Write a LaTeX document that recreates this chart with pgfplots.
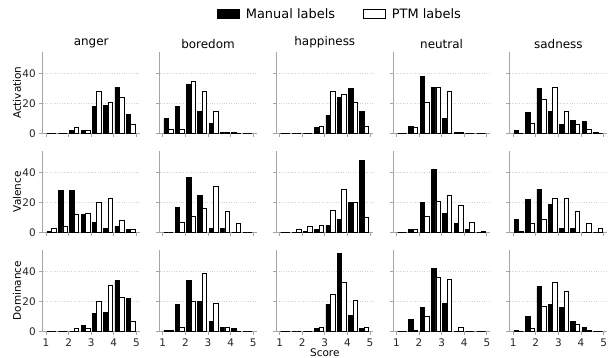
\documentclass[border=0pt]{standalone}
\usepackage{pgfplots}
\usepackage{pgfplotstable}
\pgfplotsset{compat=1.18}
\usepgfplotslibrary{groupplots}
\usepackage{fontspec}
\setmainfont{DejaVu Sans}

\pgfplotstableread{
c    aM aP vM vP dM dP
1.25 0  0  1  3  0  0
1.75 0  0  28 4  0  0
2.25 2  4  28 12 0  2
2.75 2  2  12 13 4  2
3.25 18 28 7  20 12 20
3.75 19 21 3  23 13 31
4.25 31 24 4  8  34 23
4.75 13 6  2  2  22 7
}\anger
\pgfplotstableread{
c    aM aP vM vP dM dP
1.25 10 3  0  0  1  1
1.75 18 3  17 7  18 3
2.25 33 35 37 11 34 20
2.75 15 28 25 16 20 39
3.25 7  15 3  31 7  19
3.75 1  1  3  14 3  3
4.25 1  0  0  6  2  0
4.75 0  0  0  0  0  0
}\boredom
\pgfplotstableread{
c    aM aP vM vP dM dP
1.25 0  0  0  0  0  0
1.75 0  0  0  2  0  0
2.25 0  0  1  4  0  0
2.75 4  5  2  5  2  3
3.25 12 28 5  15 18 25
3.75 24 26 9  29 52 33
4.25 30 21 20 20 11 21
4.75 15 5  48 10 2  3
}\happiness
\pgfplotstableread{
c    aM aP vM vP dM dP
1.25 0  0  0  0  0  0
1.75 5  4  2  2  8  1
2.25 38 21 20 11 16 10
2.75 31 31 42 21 42 36
3.25 10 28 13 25 19 35
3.75 1  1  6  18 0  3
4.25 0  0  2  7  0  0
4.75 0  0  0  1  0  0
}\neutral
\pgfplotstableread{
c    aM aP vM vP dM dP
1.25 2  0  9  1  1  0
1.75 14 7  22 6  10 2
2.25 30 23 29 9  30 17
2.75 15 31 19 23 18 33
3.25 6  15 3  23 16 27
3.75 9  6  3  14 7  5
4.25 8  3  0  6  3  1
4.75 1  0  0  3  0  0
}\sadness

\pgfplotsset{
  mbar/.style={fill=black, draw=black, line width=0.8bp, /pgf/bar shift=0pt},
  pbar/.style={fill=white, draw=black, line width=0.8bp, /pgf/bar shift=0pt},
}
\newcommand{\pair}[2]{%
  \addplot[mbar] table[x expr=\thisrow{c}-0.1, y=#2M] {#1};
  \addplot[pbar] table[x expr=\thisrow{c}+0.1, y=#2P] {#1};
}

\begin{document}
\begin{tikzpicture}
\begin{groupplot}[
  group style={group size=5 by 3, horizontal sep=19.8bp, vertical sep=17bp,
    xticklabels at=edge bottom, yticklabels at=edge left},
  width=97bp, height=82bp, scale only axis,
  xmin=0.855, xmax=5.145, ymin=0, ymax=54.6,
  xtick={1,2,3,4,5}, ytick={0,20,40},
  axis x line*=bottom, axis y line*=left,
  axis line style={gray!70, line width=1bp, -},
  tick align=outside, major tick length=3.5bp,
  tick style={gray!70, line width=0.8bp},
  ymajorgrids, major grid style={gray!35, dotted, line width=0.5bp},
  ybar, /pgf/bar width=0.2,
  tick label style={font=\fontsize{10.5}{12}\selectfont, text=black!85},
  /pgf/number format/assume math mode=true,
  title style={font=\fontsize{12}{14}\selectfont, yshift=-6bp},
  every axis y label/.style={at={(axis description cs:-0.265,0.5)}, rotate=90, anchor=center, font=\fontsize{10.5}{12}\selectfont},
  every axis x label/.style={at={(axis description cs:0.5,-0.256)}, anchor=center, font=\fontsize{10.5}{12}\selectfont},
  legend image code/.code={\draw[#1] (0bp,-4.5bp) rectangle (22bp,4.5bp); \path (26bp,0bp);},
]
% Row 1: Activation
\nextgroupplot[title={anger}, ylabel={Activation},
  legend columns=2,
  legend style={at={(3.065,1.455)}, anchor=center, draw=none, fill=none,
    font=\fontsize{13}{15}\selectfont,
    /tikz/every even column/.append style={column sep=26bp}}]
\pair{\anger}{a}
\addlegendentry{\fontsize{13}{15}\selectfont Manual labels}
\addlegendentry{\fontsize{13}{15}\selectfont PTM labels}
\coordinate (tl) at (rel axis cs:0,1);
\nextgroupplot[title={boredom}]
\pair{\boredom}{a}
\nextgroupplot[title={happiness}]
\pair{\happiness}{a}
\nextgroupplot[title={neutral}]
\pair{\neutral}{a}
\nextgroupplot[title={sadness}]
\pair{\sadness}{a}
% Row 2: Valence
\nextgroupplot[ylabel={Valence}]
\pair{\anger}{v}
\nextgroupplot
\pair{\boredom}{v}
\nextgroupplot
\pair{\happiness}{v}
\nextgroupplot
\pair{\neutral}{v}
\nextgroupplot
\pair{\sadness}{v}
% Row 3: Dominance
\nextgroupplot[ylabel={Dominance}]
\pair{\anger}{d}
\nextgroupplot
\pair{\boredom}{d}
\nextgroupplot[xlabel={Score}]
\pair{\happiness}{d}
\nextgroupplot
\pair{\neutral}{d}
\nextgroupplot
\pair{\sadness}{d}
\end{groupplot}
\pgfresetboundingbox
\path[use as bounding box] (tl) ++(-42.7bp,51.7bp) rectangle ++(610bp,-358bp);
\end{tikzpicture}
\end{document}
